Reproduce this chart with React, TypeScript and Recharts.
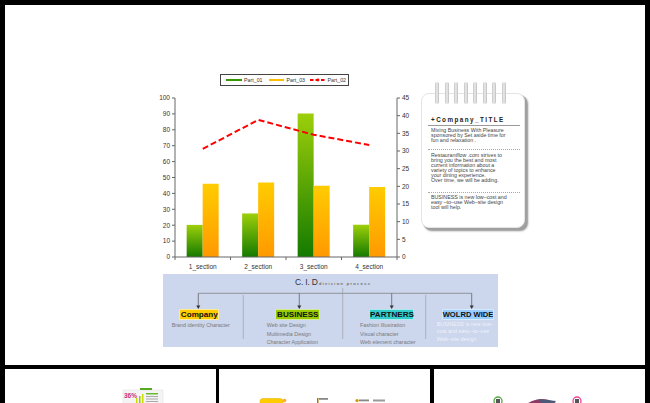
import React from "react";
import { ComposedChart, Bar, Line, XAxis, YAxis } from "recharts";

const sections = ["1_section", "2_section", "3_section", "4_section"];
const part01 = [20.2, 27.4, 90.2, 20.3];
const part03 = [46, 46.8, 44.8, 44.1];
const part02 = [30.6, 38.8, 34.6, 31.7];
const leftTicks = [0, 10, 20, 30, 40, 50, 60, 70, 80, 90, 100];
const rightTicks = [0, 5, 10, 15, 20, 25, 30, 35, 40, 45];

const noteTitle = "+Company_TITLE";
const noteParas = [
  ["Mixing Business With Pleasure", "sponsored by  Set aside time for", "fun and relaxation ."],
  [
    "Restaurantflow .com strives to",
    "bring you the best and most",
    "current information about a",
    "variety of topics to enhance",
    "your dining experience.",
    "Over time, we will be adding.",
  ],
  ["BUSINESS is new low\u2013cost and", "easy \u2013to\u2013use Web\u2013site design", "tool will help."],
];

const cidGroups = [
  { name: "Company", color: "#ffcc00", items: ["Brand identity Character"] },
  { name: "BUSINESS", color: "#99cc00", items: ["Web site Design", "Multimedia Design", "Character Application"] },
  { name: "PARTNERS", color: "#33cccc", items: ["Fashion Illustration", "Visual character", "Web element character"] },
  { name: "WOLRD WIDE", color: "#99ccff", items: ["BUSINESS is new low\u2013", "cost and easy\u2013to\u2013use", "Web\u2013site design"] },
];

const data = sections.map((s, i) => ({
  name: s,
  part01: part01[i],
  part03: part03[i],
  part02: part02[i],
}));

const font = "'Liberation Sans', Arial, sans-serif";

function SectionTick(props: any) {
  const { x, y, payload } = props;
  const half = payload && payload.offset ? payload.offset : 27.7;
  const axisY = y - 8;
  return (
    <g>
      <line x1={x + half} x2={x + half} y1={axisY} y2={axisY + 3} stroke="#666" />
      {payload.index === 0 && <line x1={x - half} x2={x - half} y1={axisY} y2={axisY + 3} stroke="#666" />}
      <text x={x} y={y + 1} textAnchor="middle" dominantBaseline="central" fontSize={6.5} fill="#333" fontFamily={font}>
        {payload.value}
      </text>
    </g>
  );
}

// legend drawn by hand, same order as the reference box
function ChartLegend() {
  return (
    <div
      style={{
        position: "absolute",
        left: 220,
        top: 74,
        width: 127,
        height: 10,
        border: "1px solid #444",
        background: "#fff",
      }}
    >
      <svg width={127} height={10} style={{ position: "absolute", left: 0, top: 0 }} fontFamily={font}>
        <line x1={5} x2={21} y1={5} y2={5} stroke="#339900" strokeWidth={2} />
        <text x={23} y={7} fontSize={5.3} fill="#333">Part_01</text>
        <line x1={48} x2={63} y1={5} y2={5} stroke="#ffbb00" strokeWidth={2} />
        <text x={65.5} y={7} fontSize={5.3} fill="#333">Part_03</text>
        <line x1={89} x2={105} y1={5} y2={5} stroke="#ff0000" strokeWidth={2} strokeDasharray="3.5 2" />
        <circle cx={97} cy={5} r={1.4} fill="#ff0000" />
        <text x={106.5} y={7} fontSize={5.3} fill="#333">Part_02</text>
      </svg>
    </div>
  );
}

function Notepad() {
  const rings = [437, 446.5, 456, 465.5, 475, 484.5, 494, 503.5];
  const lineTops = [[127.5, 132.5, 137.5], [152.5, 157.5, 162.5, 167.5, 172.5, 177.5], [195, 200, 205]];
  return (
    <>
      <div
        style={{
          position: "absolute",
          left: 421,
          top: 93,
          width: 102,
          height: 133,
          background: "#fff",
          borderRadius: 8,
          border: "1px solid #e4e4e4",
          boxShadow: "2px 2px 0 #a0a0a0, 3px 3px 2px rgba(0,0,0,0.45)",
        }}
      />
      {rings.map((x) => (
        <div
          key={x}
          style={{
            position: "absolute",
            left: x - 2,
            top: 82,
            width: 4,
            height: 22,
            borderRadius: 2,
            background: "linear-gradient(to right, #c4c4c4, #ededed, #bcbcbc)",
          }}
        />
      ))}
      <div
        style={{
          position: "absolute",
          left: 431,
          top: 115.5,
          fontFamily: font,
          fontWeight: "bold",
          fontSize: 6.3,
          letterSpacing: 1.45,
          color: "#222",
          whiteSpace: "nowrap",
        }}
      >
        {noteTitle}
      </div>
      <div style={{ position: "absolute", left: 428, top: 124.5, width: 92, height: 0, borderTop: "0.6px solid #9a9a9a" }} />
      <div style={{ position: "absolute", left: 428, top: 148.5, width: 92, height: 0, borderTop: "0.6px dotted #aaa" }} />
      <div style={{ position: "absolute", left: 428, top: 191.5, width: 92, height: 0, borderTop: "0.6px dotted #aaa" }} />
      {noteParas.map((p, pi) =>
        p.map((t, li) => (
          <div
            key={pi + "-" + li}
            style={{
              position: "absolute",
              left: 431,
              top: lineTops[pi][li],
              fontFamily: font,
              fontSize: 5.3,
              lineHeight: "5px",
              color: "#444",
              whiteSpace: "nowrap",
            }}
          >
            {t}
          </div>
        ))
      )}
    </>
  );
}

function CidPanel() {
  const arrows = [198.3, 299.3, 391.7, 471.7];
  const boxes = [
    { left: 179.3, width: 40 },
    { left: 275.3, width: 45 },
    { left: 369, width: 45 },
    { left: 441.7, width: 52 },
  ];
  const subLeft = [171.7, 266.7, 360, 436.7];
  return (
    <>
      <div style={{ position: "absolute", left: 163, top: 274, width: 335, height: 73, background: "#ccd6ec" }} />
      <svg width={650} height={403} style={{ position: "absolute", left: 0, top: 0 }}>
        <line x1={198.3} x2={471.7} y1={293.3} y2={293.3} stroke="#777" strokeWidth={0.7} />
        <line x1={342.7} x2={342.7} y1={288} y2={339} stroke="#999" strokeWidth={0.6} />
        <line x1={243.3} x2={243.3} y1={295} y2={339} stroke="#999" strokeWidth={0.6} />
        <line x1={425.7} x2={425.7} y1={295} y2={339} stroke="#999" strokeWidth={0.6} />
        {arrows.map((x) => (
          <g key={x}>
            <line x1={x} x2={x} y1={293.3} y2={306} stroke="#555" strokeWidth={0.7} />
            <path d={`M${x - 2},${305.5} L${x + 2},${305.5} L${x},${309} Z`} fill="#333" />
          </g>
        ))}
      </svg>
      <div
        style={{
          position: "absolute",
          left: 295,
          top: 277.5,
          fontFamily: font,
          fontSize: 8.5,
          letterSpacing: -0.2,
          color: "#333",
          whiteSpace: "nowrap",
          lineHeight: "9px",
        }}
      >
        C. I. D
      </div>
      <div
        style={{
          position: "absolute",
          left: 319,
          top: 280.5,
          fontFamily: font,
          fontSize: 4.3,
          letterSpacing: 1.35,
          color: "#444",
          whiteSpace: "nowrap",
          lineHeight: "5px",
        }}
      >
        division process
      </div>
      {cidGroups.map((g, i) => (
        <React.Fragment key={g.name}>
          <div
            style={{
              position: "absolute",
              left: boxes[i].left,
              top: 309.3,
              width: boxes[i].width,
              height: 10.7,
              background: g.color,
              borderRadius: 1.5,
              boxSizing: "border-box",
              border: "0.6px solid rgba(255,255,255,0.6)",
              fontFamily: font,
              fontWeight: "bold",
              fontSize: i === 3 ? 7.6 : 8.1,
              lineHeight: "10.5px",
              textAlign: "center",
              color: "#111",
              whiteSpace: "nowrap",
            }}
          >
            {g.name}
          </div>
          {g.items.map((t, j) => (
            <div
              key={t}
              style={{
                position: "absolute",
                left: subLeft[i],
                top: (i === 3 ? 320.8 : 322.3) + j * (i === 3 ? 7.5 : 8.3),
                fontFamily: font,
                fontSize: 5.4,
                lineHeight: "6px",
                color: i === 3 ? "#eef2fa" : "#7a7a7a",
                whiteSpace: "nowrap",
              }}
            >
              {t}
            </div>
          ))}
        </React.Fragment>
      ))}
    </>
  );
}

function Thumbs() {
  return (
    <>
      <div style={{ position: "absolute", left: 5, top: 369, width: 211, height: 40, background: "#fff" }} />
      <div style={{ position: "absolute", left: 219, top: 369, width: 211, height: 40, background: "#fff" }} />
      <div style={{ position: "absolute", left: 434, top: 369, width: 211, height: 40, background: "#fff" }} />
      <svg width={650} height={403} style={{ position: "absolute", left: 0, top: 0 }}>
        <rect x={123} y={390} width={40} height={14} fill="#f4f4f4" stroke="#ddd" strokeWidth={0.5} />
        <text x={124} y={398} fontSize={6.5} fontWeight="bold" fill="#cc3377" fontFamily={font}>36%</text>
        <rect x={140} y={388} width={12} height={2} fill="#55aa22" />
        <rect x={136} y={398} width={1.5} height={6} fill="#ccdd00" />
        <rect x={139} y={396} width={1.5} height={8} fill="#99cc00" />
        <rect x={142} y={394} width={1.5} height={10} fill="#ccdd00" />
        <rect x={146} y={393} width={12} height={1.5} fill="#66bb33" />
        <rect x={146} y={396} width={12} height={1} fill="#aaa" />
        <rect x={146} y={398.5} width={12} height={1} fill="#aaa" />
        <rect x={146} y={401} width={12} height={1} fill="#aaa" />
        <rect x={260} y={398.5} width={23} height={8} rx={3} fill="#ffcc00" stroke="#e0a800" strokeWidth={0.5} />
        <circle cx={284.5} cy={400.5} r={1.8} fill="#ffaa33" />
        <rect x={317} y={398} width={1.5} height={6} fill="#aa7700" />
        <rect x={319} y={398} width={9} height={1.8} fill="#888" />
        <circle cx={357} cy={400.5} r={1.6} fill="#cc9900" />
        <rect x={359} y={399.5} width={10} height={1.8} fill="#888" />
        <rect x={373} y={399.5} width={12} height={2} fill="#999" />
        <circle cx={542} cy={425} r={26} fill="#8e3a66" />
        <path d="M538,399 L556,401 L548,410 Z" fill="#4a5a78" />
        <circle cx={498} cy={401} r={4} fill="none" stroke="#55aa44" strokeWidth={1.3} />
        <rect x={496} y={399} width={4} height={4} fill="#555" />
        <circle cx={577} cy={401} r={4} fill="none" stroke="#ee4499" strokeWidth={1.3} />
        <rect x={575} y={399} width={4} height={4} fill="#555" />
      </svg>
    </>
  );
}

export default function App() {
  return (
    <div style={{ position: "fixed", left: 0, top: 0, width: 650, height: 403, background: "#000", overflow: "hidden" }}>
      <div style={{ position: "absolute", left: 5, top: 5, width: 640, height: 360, background: "#fff" }} />
      <div style={{ position: "absolute", left: 150, top: 65 }}>
        <ComposedChart
          width={280}
          height={215}
          data={data}
          margin={{ top: 33, right: 13, bottom: 8, left: 0 }}
          barCategoryGap="21%"
          barGap={0}
        >
          <defs>
            <linearGradient id="gGreen" x1="0" y1="0" x2="0" y2="1">
              <stop offset="0%" stopColor="#9dcf0a" />
              <stop offset="100%" stopColor="#147a00" />
            </linearGradient>
            <linearGradient id="gOrange" x1="0" y1="0" x2="0" y2="1">
              <stop offset="0%" stopColor="#ffcc00" />
              <stop offset="100%" stopColor="#ff9900" />
            </linearGradient>
          </defs>
          <XAxis
            dataKey="name"
            xAxisId="x"
            stroke="#666"
            tickLine={false}
            height={15}
            tick={<SectionTick />}
            interval={0}
          />
          <YAxis
            yAxisId="left"
            orientation="left"
            domain={[0, 100]}
            ticks={leftTicks}
            width={25}
            stroke="#666"
            tickSize={3}
            tickMargin={2}
            interval={0}
            tick={{ fontSize: 6.5, fill: "#333", fontFamily: font }}
          />
          <YAxis
            yAxisId="right"
            orientation="right"
            domain={[0, 45]}
            ticks={rightTicks}
            width={20}
            stroke="#666"
            tickSize={3}
            tickMargin={2}
            interval={0}
            tick={{ fontSize: 6.5, fill: "#333", fontFamily: font }}
          />
          <Bar dataKey="part01" xAxisId="x" yAxisId="left" fill="url(#gGreen)" isAnimationActive={false} />
          <Bar dataKey="part03" xAxisId="x" yAxisId="left" fill="url(#gOrange)" isAnimationActive={false} />
          <Line
            dataKey="part02"
            xAxisId="x"
            yAxisId="right"
            type="linear"
            stroke="#ff0000"
            strokeWidth={2}
            strokeDasharray="6 3"
            dot={false}
            isAnimationActive={false}
          />
        </ComposedChart>
      </div>
      <ChartLegend />
      <Notepad />
      <CidPanel />
      <Thumbs />
    </div>
  );
}
